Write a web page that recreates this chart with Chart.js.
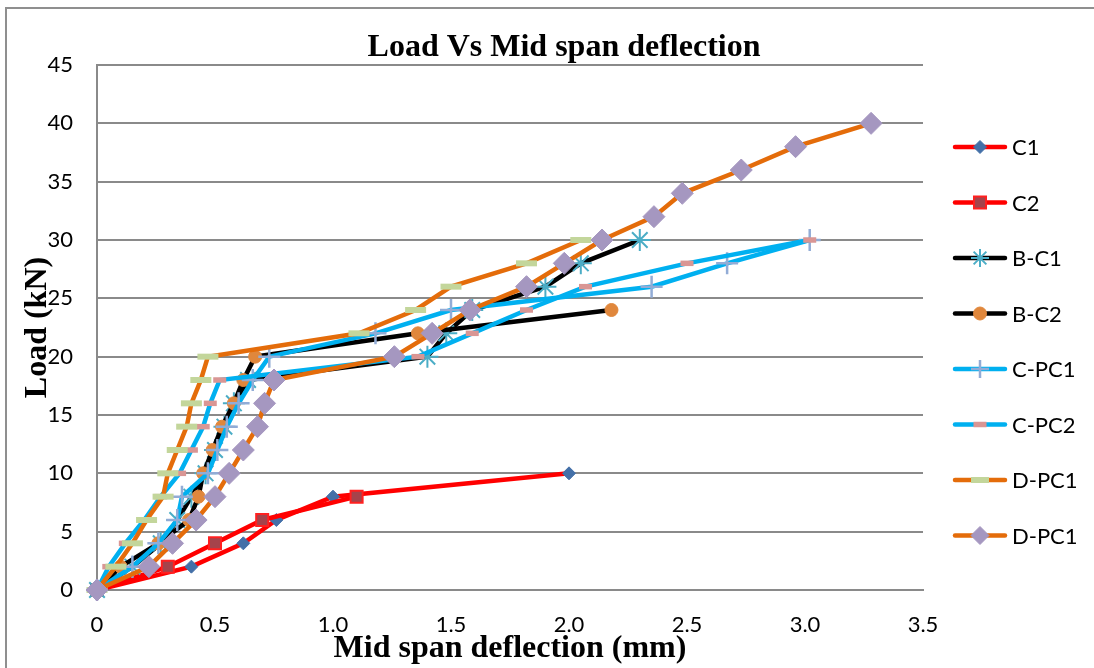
<!DOCTYPE html>
<html>
<head>
<meta charset="utf-8">
<script src="https://cdn.jsdelivr.net/npm/chart.js@4.4.1/dist/chart.umd.min.js"></script>
<style>
  body { margin: 0; background: #fff; }
  #wrap { position: relative; width: 1094px; height: 668px; overflow: hidden; }
  #frameL { position: absolute; left: 5px; top: 7px; width: 2px; height: 661px; background: #8f8f8f; }
  #frameT { position: absolute; left: 5px; top: 7px; width: 1089px; height: 2px; background: #8f8f8f; }
  canvas { position: absolute; left: 0; top: 0; }
</style>
</head>
<body>
<div id="wrap">
  <div id="frameL"></div>
  <div id="frameT"></div>
  <canvas id="chart" width="1094" height="668"></canvas>
</div>
<script>
// series names (legend order)
const seriesNames = ["C1", "C2", "B-C1", "B-C2", "C-PC1", "C-PC2", "D-PC1", "D-PC1"];

// deflection (mm) / load (kN)
const c1X = [0, 0.40, 0.62, 0.76, 1.00, 2.00];
const c1Y = [0, 2, 4, 6, 8, 10];

const c2X = [0, 0.30, 0.50, 0.70, 1.10];
const c2Y = [0, 2, 4, 6, 8];

const bc1X = [0, 0.15, 0.27, 0.34, 0.40, 0.46, 0.50, 0.54, 0.58, 0.64, 1.40, 1.48, 1.59, 1.90, 2.05, 2.30];
const bc1Y = [0, 2, 4, 6, 8, 10, 12, 14, 16, 18, 20, 22, 24, 26, 28, 30];

const bc2X = [0, 0.10, 0.26, 0.39, 0.43, 0.45, 0.49, 0.53, 0.58, 0.62, 0.67, 1.36, 2.18];
const bc2Y = [0, 2, 4, 6, 8, 10, 12, 14, 16, 18, 20, 22, 24];

const cpc1X = [0, 0.15, 0.26, 0.34, 0.36, 0.47, 0.51, 0.55, 0.60, 0.66, 0.73, 1.18, 1.50, 2.35, 2.67, 3.02];
const cpc1Y = [0, 2, 4, 6, 8, 10, 12, 14, 16, 18, 20, 22, 24, 26, 28, 30];

const cpc2X = [0, 0.05, 0.12, 0.20, 0.27, 0.35, 0.40, 0.45, 0.48, 0.52, 1.36, 1.59, 1.82, 2.07, 2.50, 3.02];
const cpc2Y = [0, 2, 4, 6, 8, 10, 12, 14, 16, 18, 20, 22, 24, 26, 28, 30];

const dpc1aX = [0, 0.08, 0.15, 0.21, 0.28, 0.30, 0.34, 0.38, 0.40, 0.44, 0.47, 1.11, 1.35, 1.50, 1.82, 2.05];
const dpc1aY = [0, 2, 4, 6, 8, 10, 12, 14, 16, 18, 20, 22, 24, 26, 28, 30];

const dpc1bX = [0, 0.22, 0.32, 0.42, 0.50, 0.56, 0.62, 0.68, 0.71, 0.75, 1.26, 1.42, 1.58, 1.82, 1.98, 2.14, 2.36, 2.48, 2.73, 2.96, 3.28];
const dpc1bY = [0, 2, 4, 6, 8, 10, 12, 14, 16, 18, 20, 22, 24, 26, 28, 30, 32, 34, 36, 38, 40];

const xTicks = [0, 0.5, 1, 1.5, 2, 2.5, 3, 3.5];
const yTicks = [0, 5, 10, 15, 20, 25, 30, 35, 40, 45];

const pts = (xs, ys) => xs.map((x, i) => ({ x: x, y: ys[i] }));

const RED = "#ff0000", BLACK = "#000000", CYAN = "#00b0f0", ORANGE = "#e46c0a";
const tickFont = { family: "Lato", size: 22 };
const titleFont = { family: "Liberation Serif", size: 32, weight: "bold" };

function series(i, xs, ys, line, style) {
  return Object.assign({
    label: seriesNames[i],
    data: pts(xs, ys),
    showLine: true,
    clip: false,
    borderColor: line,
    borderWidth: 4.5,
    order: 10 - i,
    pointBorderWidth: 2,
    pointHoverRadius: 0
  }, style);
}

const datasets = [
  series(0, c1X, c1Y, RED, { pointStyle: "rectRot", pointRadius: 6.5, pointBackgroundColor: "#4470a8", pointBorderColor: "#4470a8", pointBorderWidth: 1 }),
  series(1, c2X, c2Y, RED, { pointStyle: "rect", pointRadius: 8.5, pointBackgroundColor: "#a5434b", pointBorderColor: "#ff2020", pointBorderWidth: 2 }),
  series(2, bc1X, bc1Y, BLACK, { pointStyle: "star", pointRadius: 11, pointBackgroundColor: "#4badc6", pointBorderColor: "#4badc6", pointBorderWidth: 2 }),
  series(3, bc2X, bc2Y, BLACK, { pointStyle: "circle", pointRadius: 6.5, pointBackgroundColor: "#e0873c", pointBorderColor: "#e0873c", pointBorderWidth: 1 }),
  series(4, cpc1X, cpc1Y, CYAN, { pointStyle: "cross", pointRadius: 11, pointBackgroundColor: "#92acd6", pointBorderColor: "#92acd6", pointBorderWidth: 2.5 }),
  series(5, cpc2X, cpc2Y, CYAN, { pointStyle: "line", pointRadius: 6.5, pointBackgroundColor: "#d99694", pointBorderColor: "#d99694", pointBorderWidth: 5.5 }),
  series(6, dpc1aX, dpc1aY, ORANGE, { pointStyle: "line", pointRadius: 10.5, pointBackgroundColor: "#c3d69b", pointBorderColor: "#c3d69b", pointBorderWidth: 6 }),
  series(7, dpc1bX, dpc1bY, ORANGE, { pointStyle: "rectRot", pointRadius: 11, pointBackgroundColor: "#a597c0", pointBorderColor: "#a597c0", pointBorderWidth: 1 })
];

// title, legend (line + marker samples) drawn after the chart
const extras = {
  id: "extras",
  afterDraw(chart) {
    const ctx = chart.ctx;
    ctx.save();
    ctx.fillStyle = "#000";
    ctx.font = "bold 32px 'Liberation Serif'";
    ctx.textAlign = "center";
    ctx.textBaseline = "middle";
    ctx.fillText("Load Vs Mid span deflection", 564, 48);

    ctx.font = "22px Lato";
    ctx.textAlign = "left";
    chart.data.datasets.forEach((ds, i) => {
      const y = 147 + i * 55.5;
      ctx.strokeStyle = ds.borderColor;
      ctx.lineWidth = ds.borderWidth;
      ctx.lineCap = "round";
      ctx.beginPath();
      ctx.moveTo(955, y);
      ctx.lineTo(1005, y);
      ctx.stroke();
      ctx.lineCap = "butt";
      ctx.fillStyle = ds.pointBackgroundColor;
      ctx.strokeStyle = ds.pointBorderColor;
      ctx.lineWidth = ds.pointBorderWidth;
      Chart.helpers.drawPoint(ctx, { pointStyle: ds.pointStyle, radius: Math.min(ds.pointRadius, 9), borderWidth: ds.pointBorderWidth, rotation: 0 }, 980, y);
      ctx.fillStyle = "#000";
      ctx.fillText(ds.label, 1012, y + 1);
    });
    ctx.restore();
  }
};

new Chart(document.getElementById("chart"), {
  type: "scatter",
  data: { datasets: datasets },
  plugins: [extras],
  options: {
    responsive: false,
    animation: false,
    devicePixelRatio: 1,
    layout: { padding: { top: 65, right: 171, left: 0, bottom: 0 } },
    plugins: {
      legend: { display: false },
      tooltip: { enabled: false },
      title: { display: false }
    },
    scales: {
      x: {
        type: "linear",
        min: 0, max: 3.5,
        afterBuildTicks: s => { s.ticks = xTicks.map(v => ({ value: v })); },
        afterFit: s => { s.height = 78; },
        grid: { display: false, drawTicks: false },
        border: { display: true, color: "#8a8a8a", width: 2 },
        ticks: { color: "#000", font: tickFont, padding: 22, maxRotation: 0 },
        title: {
          display: true,
          text: "Mid span deflection (mm)",
          color: "#000",
          font: titleFont,
          padding: { top: 0, bottom: 0 }
        }
      },
      y: {
        type: "linear",
        min: 0, max: 45,
        afterBuildTicks: s => { s.ticks = yTicks.map(v => ({ value: v })); },
        afterFit: s => { s.width = 97; },
        grid: { color: "#8a8a8a", lineWidth: 2, drawTicks: false },
        border: { display: true, color: "#8a8a8a", width: 2 },
        ticks: { color: "#000", font: tickFont, padding: 24 },
        title: {
          display: true,
          text: "Load (kN)",
          color: "#000",
          font: titleFont,
          padding: { top: 19, bottom: 0 }
        }
      }
    }
  }
});
</script>
</body>
</html>
